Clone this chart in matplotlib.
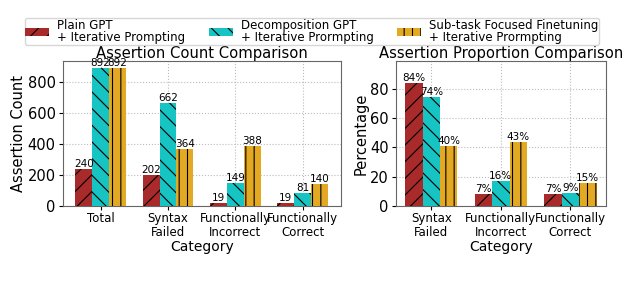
import numpy as np
import matplotlib
matplotlib.use("Agg")
import matplotlib.pyplot as plt

plt.rcParams['hatch.linewidth'] = 0.8

methods = ["Plain GPT\n+ Iterative Prompting",
           "Decomposition GPT\n+ Iterative Prormpting",
           "Sub-task Focused Finetuning\n+ Iterative Prormpting"]
colors = ["#A82A2A", "#17C4C4", "#E3A922"]
hatches = ["//", "\\\\", "||"]

count_cats = ["Total", "Syntax\nFailed", "Functionally\nIncorrect", "Functionally\nCorrect"]
count_plain = [240, 202, 19, 19]
count_decomp = [892, 662, 149, 81]
count_finetune = [892, 364, 388, 140]

prop_cats = ["Syntax\nFailed", "Functionally\nIncorrect", "Functionally\nCorrect"]
prop_plain = [84.2, 7.9, 7.9]
prop_decomp = [74.2, 16.7, 9.1]
prop_finetune = [40.8, 43.5, 15.7]


def drawGroups(ax, cats, series, fmt):
    x = np.arange(len(cats))
    w = 0.25
    bars = []
    for i, vals in enumerate(series):
        b = ax.bar(x + (i - 1) * w, vals, w, color=colors[i], hatch=hatches[i],
                   edgecolor="black", linewidth=0, label=methods[i], zorder=3)
        for rect, v in zip(b, vals):
            ax.text(rect.get_x() + rect.get_width() / 2, rect.get_height(), fmt(v),
                    ha="center", va="bottom", fontsize=7.5, zorder=4)
        bars.append(b)
    ax.set_xticks(x)
    ax.set_xticklabels(cats, fontsize=8.5, linespacing=1.05)
    ax.set_xlabel("Category", fontsize=10, labelpad=1)
    ax.tick_params(axis="y", labelsize=10.5, length=3, pad=2)
    ax.tick_params(axis="x", length=3, pad=1.5)
    ax.grid(True, linestyle=":", color="#bbbbbb", linewidth=0.8, zorder=0)
    for s in ax.spines.values():
        s.set_color("#666666")
    return bars


fig, (ax1, ax2) = plt.subplots(1, 2, figsize=(6.4, 2.82), dpi=100,
                               gridspec_kw={"width_ratios": [4.125, 3.125]})
fig.subplots_adjust(left=0.098, right=0.947, top=0.784, bottom=0.27, wspace=0.225)

bars = drawGroups(ax1, count_cats, [count_plain, count_decomp, count_finetune], lambda v: "%d" % v)
ax1.set_ylim(0, 936)
ax1.set_yticks([0, 200, 400, 600, 800])
ax1.set_ylabel("Assertion Count", fontsize=10.5, labelpad=1)
ax1.set_title("Assertion Count Comparison", fontsize=10.6, pad=2)

drawGroups(ax2, prop_cats, [prop_plain, prop_decomp, prop_finetune], lambda v: "%d%%" % int(v))
ax2.set_ylim(0, 99)
ax2.set_yticks([0, 20, 40, 60, 80])
ax2.set_ylabel("Percentage", fontsize=10.5, labelpad=1)
ax2.set_title("Assertion Proportion Comparison", fontsize=10.6, pad=2)

leg = fig.legend(bars, methods, loc="upper center", bbox_to_anchor=(0.4875, 0.936), ncol=3,
                 fontsize=8.5, frameon=True, handlelength=2.0, handletextpad=0.7,
                 columnspacing=2.0, borderpad=0.05, labelspacing=0.0, borderaxespad=0)
for t in leg.get_texts():
    t.set_linespacing(0.95)

fig.savefig("out.png", dpi=100)
